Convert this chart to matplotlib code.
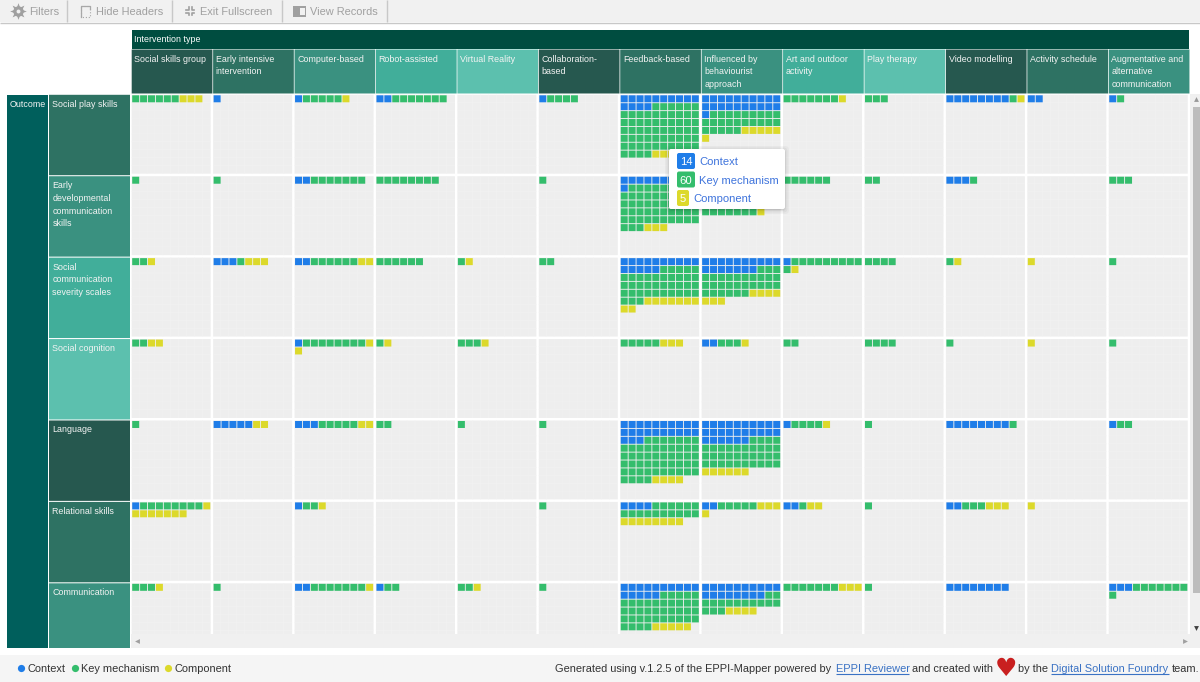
import matplotlib
matplotlib.use('Agg')
import matplotlib.pyplot as plt
from matplotlib.patches import Rectangle, FancyBboxPatch

plt.rcParams['font.family'] = ['Liberation Sans', 'DejaVu Sans']

col_labels = ['Social skills group', 'Early intensive\nintervention', 'Computer-based', 'Robot-assisted',
              'Virtual Reality', 'Collaboration-\nbased', 'Feedback-based',
              'Influenced by\nbehaviourist\napproach', 'Art and outdoor\nactivity', 'Play therapy',
              'Video modelling', 'Activity schedule', 'Augmentative and\nalternative\ncommunication']
row_labels = ['Social play skills', 'Early\ndevelopmental\ncommunication\nskills',
              'Social\ncommunication\nseverity scales', 'Social cognition', 'Language',
              'Relational skills', 'Communication']

# counts per outcome (rows) and intervention (columns)
context = [
    [0, 1, 1, 2, 0, 1, 14, 21, 0, 0, 8, 2, 1],
    [0, 0, 2, 0, 0, 0, 11, 14, 0, 0, 3, 0, 0],
    [0, 3, 2, 0, 0, 0, 15, 17, 1, 0, 0, 0, 0],
    [0, 0, 1, 0, 0, 0, 0, 2, 0, 0, 0, 0, 0],
    [0, 5, 3, 0, 0, 0, 23, 26, 1, 0, 8, 0, 1],
    [1, 0, 1, 0, 0, 0, 4, 2, 2, 0, 2, 0, 0],
    [0, 0, 2, 1, 0, 0, 15, 18, 0, 0, 8, 0, 3],
]
key_mechanism = [
    [6, 0, 5, 7, 0, 4, 60, 24, 7, 3, 1, 0, 1],
    [1, 1, 7, 8, 0, 1, 52, 33, 6, 2, 1, 0, 3],
    [2, 1, 6, 6, 1, 2, 38, 29, 10, 4, 1, 0, 1],
    [2, 0, 8, 1, 3, 0, 5, 3, 2, 4, 1, 0, 1],
    [1, 0, 5, 2, 1, 1, 51, 34, 4, 1, 1, 0, 2],
    [8, 0, 2, 0, 0, 1, 16, 5, 1, 1, 3, 0, 0],
    [3, 1, 7, 2, 2, 1, 39, 15, 7, 1, 0, 0, 8],
]
component = [
    [3, 0, 1, 0, 0, 0, 5, 6, 1, 0, 1, 0, 0],
    [0, 0, 0, 0, 0, 0, 3, 1, 0, 0, 0, 0, 0],
    [1, 3, 2, 0, 1, 0, 9, 7, 1, 0, 1, 1, 0],
    [2, 0, 2, 1, 1, 0, 3, 1, 0, 0, 0, 1, 0],
    [0, 2, 2, 0, 0, 0, 4, 6, 1, 0, 0, 0, 0],
    [8, 0, 1, 0, 0, 0, 8, 4, 2, 0, 3, 1, 0],
    [1, 0, 1, 0, 1, 0, 5, 4, 3, 0, 0, 0, 0],
]

BLUE = '#1f7de8'
GREEN = '#34bd6c'
YELLOW = '#dcd92b'
shades = ['#26584f', '#2e7263', '#3a9180', '#41ae9a', '#5cc0ae']

fig = plt.figure(figsize=[12, 6.82], dpi=100)
ax = fig.add_axes([0, 0, 1, 1])
ax.set_xlim(0, 1200)
ax.set_ylim(682, 0)
ax.axis('off')

col_x = [131.7 + 81.42 * i for i in range(13)]
row_y = [94.8 + 81.42 * i for i in range(7)]
STEP = 7.9
BOX = 7.0
HEAD_FS = 6.4
FOOT_FS = 7.9
BASE = 3.2  # baseline offset below the line centre

# toolbar
ax.add_patch(Rectangle((0, 0), 1200, 22, fc='#f1f1f1', ec='none'))
ax.hlines(22.5, 0, 1200, color='#c8c8c8', lw=1)
ax.vlines([66.5, 171.5, 281.5, 386.5], 0, 22, color='#c8c8c8', lw=1)
for x, label in zip([29, 96, 200, 310], ['Filters', 'Hide Headers', 'Exit Fullscreen', 'View Records']):
    ax.text(x, 11 + BASE + 0.6, label, color='#a0a0a0', fontsize=7.9, va='baseline')
ax.plot([18], [11], marker=(8, 1, 0), ms=12, color='#a0a0a0', mec='none')
ax.plot([18], [11], marker='o', ms=7.5, color='#a0a0a0', mec='none')
ax.plot([18], [11], marker='o', ms=2.8, color='#f1f1f1', mec='none')
ax.add_patch(Rectangle((81, 6), 9, 11, fc='none', ec='#a8a8a8', lw=0.8, ls=':'))
ax.plot([81, 81, 90, 90], [17, 6, 6, 9], color='#a8a8a8', lw=0.9)
for dx, dy in [(-1, -1), (1, -1), (-1, 1), (1, 1)]:
    ax.plot([190 + dx * 1.5, 190 + dx * 1.5, 190 + dx * 4],
            [11 + dy * 4, 11 + dy * 1.5, 11 + dy * 1.5], color='#a0a0a0', lw=1.2)
ax.add_patch(Rectangle((293, 6), 13, 10.5, fc='#a0a0a0', ec='none'))
ax.add_patch(Rectangle((300, 8), 4.5, 6.5, fc='#f1f1f1', ec='none'))

# headers
ax.add_patch(Rectangle((131.5, 30), 1057.5, 18.5, fc='#004d40', ec='none'))
ax.text(134.5, 38.5 + BASE, 'Intervention type', color='white', fontsize=HEAD_FS, va='baseline')
for i, label in enumerate(col_labels):
    ax.add_patch(Rectangle((col_x[i], 49.5), 80.7, 44, fc=shades[i % 5], ec='none', snap=False))
    for j, line in enumerate(label.split('\n')):
        ax.text(col_x[i] + 2.6, 58.3 + j * 12.7 + BASE, line, color='#f4f4f4', fontsize=HEAD_FS, va='baseline')

ax.add_patch(Rectangle((7, 94.5), 41, 553.5, fc='#005f5c', ec='none'))
ax.text(10, 103.5 + BASE, 'Outcome', color='#f4f4f4', fontsize=HEAD_FS, va='baseline')
for i, label in enumerate(row_labels):
    h = 80.4 if i < 6 else 648 - row_y[i]
    ax.add_patch(Rectangle((49, row_y[i]), 81, h, fc=shades[(i + 1) % 5], ec='none', snap=False))
    for j, line in enumerate(label.split('\n')):
        ax.text(52.5, row_y[i] + 8.7 + j * 12.7 + BASE, line, color='#f4f4f4', fontsize=HEAD_FS, va='baseline')

# scroll strips
ax.add_patch(Rectangle((131, 634), 1069, 14, fc='#f0f0f0', ec='none'))
ax.add_patch(Rectangle((1190, 94), 10, 554, fc='#f0f0f0', ec='none'))
ax.add_patch(Rectangle((1193, 107), 7, 486, fc='#bdbdbd', ec='none'))
ax.plot([1196], [98.5], marker='^', ms=3.5, color='#9a9a9a', mec='none')
ax.plot([1196], [627.5], marker='v', ms=3.5, color='#404040', mec='none')
ax.plot([137], [640.5], marker='<', ms=3.5, color='#a0a0a0', mec='none')
ax.plot([1185], [640.5], marker='>', ms=3.5, color='#a0a0a0', mec='none')

# map cells
for r in range(7):
    height = 78.9 if r < 6 else 634 - row_y[r]
    for c in range(13):
        x0, y0 = col_x[c], row_y[r]
        ax.add_patch(Rectangle((x0, y0), 79.0, height, fc='#eeeeee', ec='none', zorder=1, snap=False))
        for k in range(1, 10):
            ax.vlines(x0 + k * STEP - 0.45, y0, y0 + height, color='#f2f2f2', lw=0.4, zorder=1, snap=False)
            if k * STEP < height:
                ax.hlines(y0 + k * STEP - 0.45, x0, x0 + 79.0, color='#f2f2f2', lw=0.4, zorder=1, snap=False)
        colors = [BLUE] * context[r][c] + [GREEN] * key_mechanism[r][c] + [YELLOW] * component[r][c]
        for n, color in enumerate(colors):
            ax.add_patch(Rectangle((x0 + 0.5 + (n % 10) * STEP, y0 + 0.5 + (n // 10) * STEP),
                                   BOX, BOX, fc=color, ec='none', zorder=2, snap=False))

# tooltip
for pad, alpha in [(5, 0.03), (3.5, 0.04), (2, 0.06), (1, 0.08)]:
    ax.add_patch(FancyBboxPatch((669 - pad + 1, 149 - pad + 2), 116 + 2 * pad - 2, 60 + 2 * pad - 2,
                                boxstyle='round,pad=0,rounding_size=4', fc='black', ec='none',
                                alpha=alpha, zorder=5))
ax.add_patch(FancyBboxPatch((669, 149), 116, 60, boxstyle='round,pad=0,rounding_size=2',
                            fc='white', ec='none', zorder=6))
tips = [(14, 'Context', BLUE, 153, 18), (60, 'Key mechanism', GREEN, 171.5, 18), (5, 'Component', YELLOW, 190, 12)]
for num, label, color, y, w in tips:
    ax.add_patch(FancyBboxPatch((677, y), w, 16, boxstyle='round,pad=0,rounding_size=2',
                                fc=color, ec='none', zorder=7))
    ax.text(677 + w / 2, y + 8.3 + BASE + 0.5, str(num), color='white', fontsize=8.1, ha='center', va='baseline', zorder=8)
    ax.text(677 + w + 4, y + 8.3 + BASE + 0.5, label, color='#3f74dc', fontsize=8.1, va='baseline', zorder=8)

# footer
ax.add_patch(Rectangle((0, 655), 1200, 27, fc='#f5f5f5', ec='none'))
for x, tx, label, color in [(21, 28, 'Context', BLUE), (74.5, 81, 'Key mechanism', GREEN),
                            (168, 174.5, 'Component', YELLOW)]:
    ax.plot([x], [668], marker='o', ms=5.2, color=color, mec='none')
    ax.text(tx, 668 + 4, label, color='#333333', fontsize=FOOT_FS, va='baseline')

ax.text(555, 672, 'Generated using v.1.2.5 of the EPPI-Mapper powered by', color='#333333', fontsize=FOOT_FS, va='baseline')
ax.text(835.5, 672, 'EPPI Reviewer', color='#3a72c4', fontsize=FOOT_FS, va='baseline')
ax.hlines(674, 835.5, 909, color='#3a72c4', lw=0.8)
ax.text(912.5, 672, 'and created with', color='#333333', fontsize=FOOT_FS, va='baseline')
ax.text(1005.5, 668.5, '\u2665', color='#c92020', fontsize=18, ha='center', va='center', family='DejaVu Sans')
ax.text(1018.5, 672, 'by the', color='#333333', fontsize=FOOT_FS, va='baseline')
ax.text(1051, 672, 'Digital Solution Foundry', color='#3a72c4', fontsize=FOOT_FS, va='baseline')
ax.hlines(674, 1051, 1169, color='#3a72c4', lw=0.8)
ax.text(1172, 672, 'team.', color='#333333', fontsize=FOOT_FS, va='baseline')

fig.savefig('out.png', dpi=100)
